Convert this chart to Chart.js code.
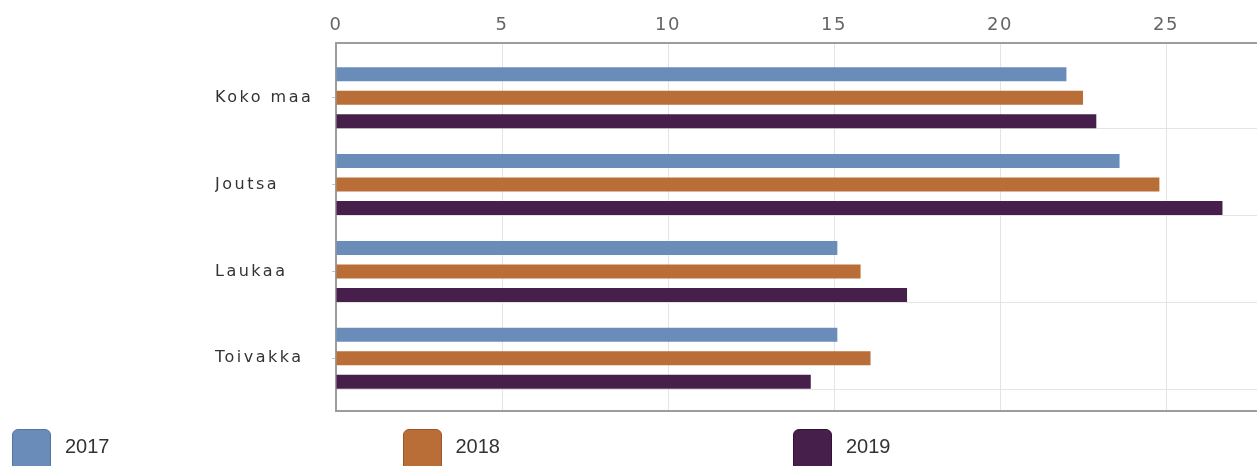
<!DOCTYPE html>
<html>
<head>
<meta charset="utf-8">
<script src="https://cdn.jsdelivr.net/npm/chart.js@4.4.1/dist/chart.umd.min.js"></script>
<style>
  html, body { margin: 0; padding: 0; background: #ffffff; overflow: hidden; }
  #wrap { position: relative; width: 1257px; height: 466px; }
  #legend { position: absolute; left: 0; top: 0; width: 1257px; height: 466px; pointer-events: none; }
  .lg-box { position: absolute; top: 429px; width: 39px; height: 42px; box-sizing: border-box; border: 1px solid; border-radius: 6px; }
  .lg-text { position: absolute; top: 435px; font: 20px "Liberation Sans", Arial, sans-serif; line-height: 23px; color: #333333; white-space: nowrap; }
</style>
</head>
<body>
<div id="wrap">
  <canvas id="c" width="1257" height="466"></canvas>
  <div id="legend"></div>
</div>
<script>
// ---- data ----
const categories = ['Koko maa', 'Joutsa', 'Laukaa', 'Toivakka'];
const seriesLabels = ['2017', '2018', '2019'];
const values2017 = [22.0, 23.6, 15.1, 15.1];
const values2018 = [22.5, 24.8, 15.8, 16.1];
const values2019 = [22.9, 26.7, 17.2, 14.3];
const xTickValues = [0, 5, 10, 15, 20, 25];

// ---- style ----
const fillColors = ['#698cb9', '#b96e37', '#46204a'];
const edgeColors = ['#55749e', '#9a5628', '#2e1432'];
const axisColor = '#9c9c9c';
const gridColor = '#e4e4e4';

const seriesValues = [values2017, values2018, values2019];
const datasets = seriesLabels.map((lab, s) => ({
  label: lab,
  data: seriesValues[s].map((v, i) => ({ x: v, y: i })),
  backgroundColor: fillColors[s],
  borderWidth: 0,
  categoryPercentage: 0.812,
  barPercentage: 0.596
}));

// y range chosen so category centres and band gridlines fall like the reference
const yMin = -0.631, yMax = 3.608, gridShift = 0.357;

// letter spacing per axis, applied right before that axis' labels are laid out/drawn
const spaced = (px, color) => (ctx) => {
  if (ctx.chart && ctx.chart.ctx) ctx.chart.ctx.letterSpacing = px;
  return color;
};

const chart = new Chart(document.getElementById('c'), {
  type: 'bar',
  data: { datasets },
  options: {
    indexAxis: 'y',
    responsive: false,
    animation: false,
    events: [],
    layout: { padding: { left: 215, right: 0, top: 0, bottom: 55 } },
    plugins: { legend: { display: false }, tooltip: { enabled: false } },
    scales: {
      x: {
        type: 'linear',
        position: 'top',
        min: 0,
        max: 27.74,
        afterBuildTicks: s => { s.ticks = xTickValues.map(v => ({ value: v })); },
        afterFit: s => { s.height = 43; },
        ticks: {
          color: spaced('1.5px', '#666666'),
          padding: 7,
          font: { family: '"DejaVu Sans", sans-serif', size: 18 }
        },
        grid: { color: gridColor, lineWidth: 1, drawTicks: false },
        border: { color: axisColor, width: 2 }
      },
      x2: {
        type: 'linear',
        position: 'bottom',
        min: 0, max: 1,
        afterFit: s => { s.height = 0; },
        ticks: { display: false },
        grid: { drawOnChartArea: false, drawTicks: false },
        border: { color: axisColor, width: 2 }
      },
      y: {
        type: 'linear',
        position: 'left',
        reverse: true,
        offset: false,
        min: yMin,
        max: yMax,
        afterBuildTicks: s => { s.ticks = categories.map((c, i) => ({ value: i })); },
        afterFit: s => { s.width = 121; },
        ticks: {
          autoSkip: false,
          crossAlign: 'far',
          color: spaced('2.5px', '#333333'),
          font: { family: '"DejaVu Sans", sans-serif', size: 16 },
          callback: (v, i) => categories[i]
        },
        grid: { offset: false, drawOnChartArea: false, drawTicks: true, tickLength: 4, color: '#c8c8c8' },
        border: { color: axisColor, width: 2 }
      },
      y2: {
        type: 'linear',
        position: 'right',
        reverse: true,
        offset: false,
        min: yMin,
        max: yMax,
        afterBuildTicks: s => { s.ticks = categories.map((c, i) => ({ value: i + gridShift })); },
        afterFit: s => { s.width = 0; },
        ticks: { display: false },
        grid: { offset: false, color: gridColor, lineWidth: 1, drawTicks: false },
        border: { display: false }
      }
    }
  }
});

// HTML legend built from the chart's datasets
const legendEl = document.getElementById('legend');
chart.data.datasets.forEach((ds, i) => {
  const left = 12 + i * 390.5;
  const box = document.createElement('div');
  box.className = 'lg-box';
  box.style.left = left + 'px';
  box.style.background = ds.backgroundColor;
  box.style.borderColor = edgeColors[i];
  legendEl.appendChild(box);
  const t = document.createElement('div');
  t.className = 'lg-text';
  t.style.left = (left + 53) + 'px';
  t.textContent = ds.label;
  legendEl.appendChild(t);
});
</script>
</body>
</html>
